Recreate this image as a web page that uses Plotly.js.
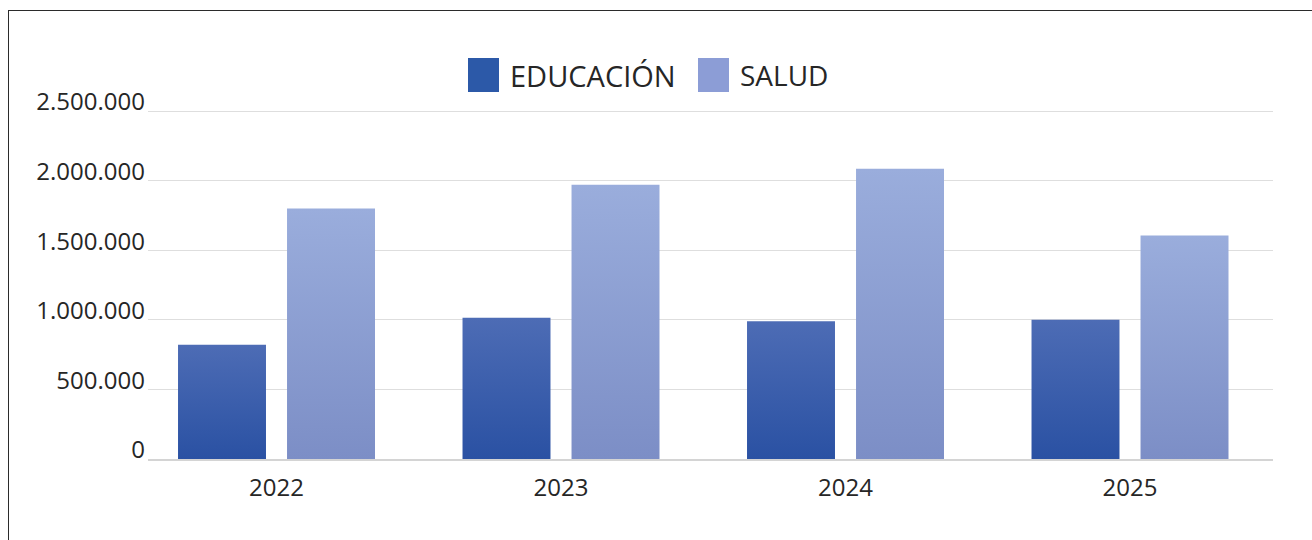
<!DOCTYPE html>
<html>
<head>
<meta charset="utf-8">
<script src="https://cdn.plot.ly/plotly-3.0.1.min.js"></script>
<style>
  html, body { margin: 0; padding: 0; width: 1312px; height: 540px; overflow: hidden; background: #fff; }
  #frame { position: absolute; left: 8px; top: 10px; width: 2000px; height: 1000px; border-left: 1.5px solid #2b2b2b; border-top: 1.5px solid #2b2b2b; }
  #chart { position: absolute; left: 0; top: 0; width: 1312px; height: 540px; }
</style>
</head>
<body>
<div id="frame"></div>
<div id="chart"></div>
<script>
const years = ['2022', '2023', '2024', '2025'];
const seriesNames = ['EDUCACIÓN', 'SALUD'];
const educacion = [820000, 1015000, 990000, 1000000];
const salud = [1800000, 1970000, 2085000, 1605000];
const yTicks = [0, 500000, 1000000, 1500000, 2000000, 2500000];

const colEdu = '#3a5fae';
const colSal = '#8b9dd4';
const gradEdu = ['#4d6cb5', '#2a51a3'];
const gradSal = ['#9aaddc', '#7c8ec6'];
const textCol = '#262626';
const fontFam = '"Open Sans", Roboto, sans-serif';

const traces = [
  { type: 'bar', x: years, y: educacion, name: seriesNames[0], marker: { color: colEdu }, showlegend: false, hoverinfo: 'y' },
  { type: 'bar', x: years, y: salud, name: seriesNames[1], marker: { color: colSal }, showlegend: false, hoverinfo: 'y' }
];

// custom legend (positions in paper coordinates)
const W = 1125, H = 352, L = 148, B = 459;
const px = v => (v - L) / W;
const py = v => (B - v) / H;

const layout = {
  width: 1312, height: 540,
  margin: { l: 148, r: 39, t: 107, b: 81 },
  paper_bgcolor: 'rgba(0,0,0,0)',
  plot_bgcolor: 'rgba(0,0,0,0)',
  separators: ',.',
  barmode: 'group',
  bargap: 0.2337,
  bargroupgap: 0.193,
  font: { family: fontFam, color: textCol, size: 24 },
  xaxis: {
    type: 'category',
    range: [-0.4517, 3.5026],
    showgrid: false,
    showline: true, linecolor: '#d4d4d4', linewidth: 1.5,
    ticks: '',
    ticklabelstandoff: 7,
    tickfont: { family: fontFam, size: 24, color: textCol },
    fixedrange: true
  },
  yaxis: {
    range: [0, 2500000 * 352 / 348],
    tickvals: yTicks,
    tickformat: ',d',
    showgrid: true, gridcolor: '#dedede', gridwidth: 1,
    zeroline: false,
    showline: false,
    ticks: '',
    ticklabelstandoff: 2,
    ticklabelshift: -9,
    tickfont: { family: fontFam, size: 24, color: textCol },
    fixedrange: true
  },
  shapes: [
    { type: 'rect', xref: 'paper', yref: 'paper', x0: px(468), x1: px(499), y0: py(92), y1: py(58), fillcolor: '#2c59a8', line: { width: 0 } },
    { type: 'rect', xref: 'paper', yref: 'paper', x0: px(698), x1: px(729), y0: py(92), y1: py(58), fillcolor: '#8c9dd6', line: { width: 0 } }
  ],
  annotations: [
    { xref: 'paper', yref: 'paper', x: px(508), y: py(75), xanchor: 'left', yanchor: 'middle', text: seriesNames[0], showarrow: false, font: { family: fontFam, size: 29, color: textCol } },
    { xref: 'paper', yref: 'paper', x: px(738), y: py(75), xanchor: 'left', yanchor: 'middle', text: seriesNames[1], showarrow: false, font: { family: fontFam, size: 28, color: textCol } }
  ]
};

const gd = document.getElementById('chart');
Plotly.newPlot(gd, traces, layout, { displayModeBar: false, staticPlot: true }).then(() => {
  const svg = gd.querySelector('svg.main-svg');
  const NS = 'http://www.w3.org/2000/svg';
  let defs = svg.querySelector('defs');
  if (!defs) { defs = document.createElementNS(NS, 'defs'); svg.insertBefore(defs, svg.firstChild); }
  const grads = [gradEdu, gradSal];
  grads.forEach((g, i) => {
    const lg = document.createElementNS(NS, 'linearGradient');
    lg.setAttribute('id', 'barGrad' + i);
    lg.setAttribute('x1', '0'); lg.setAttribute('y1', '0');
    lg.setAttribute('x2', '0'); lg.setAttribute('y2', '1');
    [[0, g[0]], [1, g[1]]].forEach(([o, c]) => {
      const st = document.createElementNS(NS, 'stop');
      st.setAttribute('offset', o);
      st.setAttribute('stop-color', c);
      lg.appendChild(st);
    });
    defs.appendChild(lg);
  });
  gd.querySelectorAll('.barlayer .trace').forEach((tr, i) => {
    tr.querySelectorAll('path').forEach(p => { p.style.fill = 'url(#barGrad' + i + ')'; });
  });
});
</script>
</body>
</html>
